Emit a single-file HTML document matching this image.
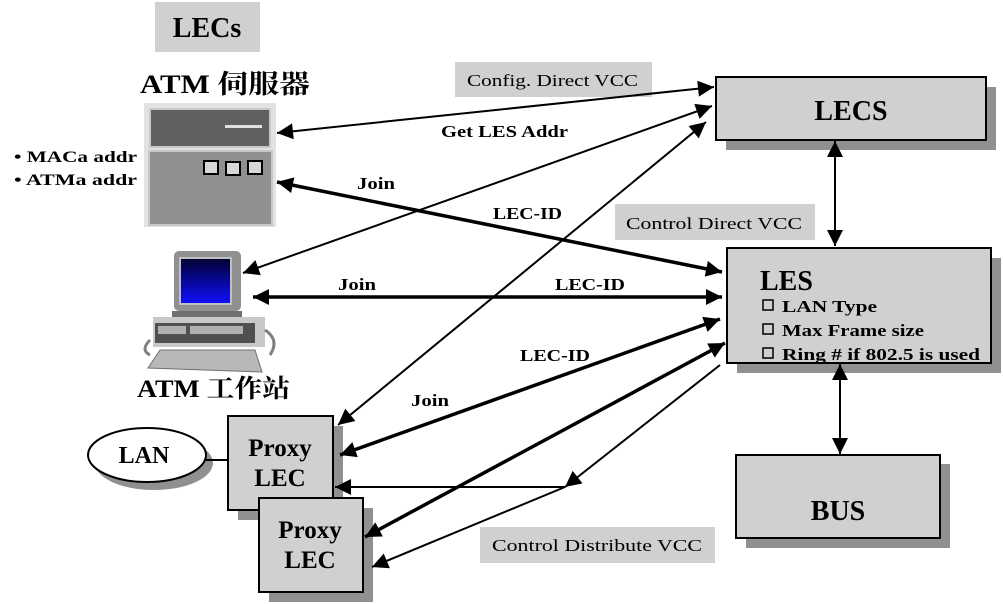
<!DOCTYPE html>
<html><head><meta charset="utf-8"><style>
body{margin:0;background:#fff}
svg{display:block}
text{font-family:"Liberation Serif","Noto Serif CJK SC",serif;font-weight:bold}
.n{font-weight:normal}
</style></head><body>
<svg width="1003" height="604" viewBox="0 0 1003 604" xmlns="http://www.w3.org/2000/svg">
<defs>
<marker id="A" viewBox="0 0 10 10" refX="10" refY="5" markerWidth="30" markerHeight="16" orient="auto-start-reverse" markerUnits="userSpaceOnUse"><path d="M0,0L10,5L0,10z"/></marker>
<linearGradient id="scr" x1="0" y1="0" x2="0" y2="1"><stop offset="0" stop-color="#000030"/><stop offset="1" stop-color="#1010ff"/></linearGradient>
</defs>

<rect x="155" y="2" width="105" height="50" fill="#d0d0d0"/>
<text x="207" y="37" font-size="28" text-anchor="middle">LECs</text>
<text x="140" y="93" font-size="26" textLength="170" lengthAdjust="spacingAndGlyphs">ATM 伺服器</text>

<rect x="144" y="103" width="132" height="124" fill="#e2e2e2"/>
<rect x="150" y="109" width="120" height="38" fill="#606060" stroke="#c8c8c8" stroke-width="2"/>
<rect x="225" y="125" width="37" height="3" fill="#e0e0e0"/>
<rect x="149" y="151" width="123" height="74" fill="#909090" stroke="#c8c8c8" stroke-width="2"/>
<rect x="204" y="161" width="14" height="13" fill="#d8d8d8" stroke="#000" stroke-width="2"/>
<rect x="226" y="162" width="14" height="13" fill="#d8d8d8" stroke="#000" stroke-width="2"/>
<rect x="248" y="161" width="14" height="13" fill="#d8d8d8" stroke="#000" stroke-width="2"/>

<text x="14" y="162" font-size="16" textLength="123" lengthAdjust="spacingAndGlyphs">• MACa addr</text>
<text x="14" y="185" font-size="16" textLength="123" lengthAdjust="spacingAndGlyphs">• ATMa addr</text>

<rect x="174" y="251" width="67" height="60" rx="5" fill="#909090"/>
<rect x="180" y="258" width="51" height="46" fill="url(#scr)" stroke="#c0c0c0" stroke-width="2"/>
<rect x="172" y="311" width="70" height="6" fill="#707070"/>
<rect x="153" y="317" width="112" height="30" fill="#c8c8c8"/>
<rect x="155" y="323" width="100" height="20" fill="#505050"/>
<rect x="158" y="326" width="28" height="8" fill="#b0b0b0"/>
<rect x="190" y="326" width="25" height="8" fill="#b0b0b0"/>
<rect x="215" y="326" width="28" height="8" fill="#b0b0b0"/>
<path d="M160 350L255 350L262 372L148 368Z" fill="#b8b8b8" stroke="#707070"/>
<path d="M150 340q-10 10 0 15M265 330q15 10 5 25" stroke="#808080" stroke-width="3" fill="none"/>
<text x="137" y="397" font-size="25" textLength="153" lengthAdjust="spacingAndGlyphs">ATM 工作站</text>

<rect x="455" y="62" width="197" height="35" fill="#d0d0d0"/>
<text class="n" x="467" y="86" font-size="17" textLength="171" lengthAdjust="spacingAndGlyphs">Config. Direct VCC</text>
<rect x="615" y="204" width="200" height="36" fill="#d0d0d0"/>
<text class="n" x="626" y="229" font-size="17" textLength="176" lengthAdjust="spacingAndGlyphs">Control Direct VCC</text>
<rect x="480" y="527" width="235" height="36" fill="#d0d0d0"/>
<text class="n" x="492" y="551" font-size="17" textLength="210" lengthAdjust="spacingAndGlyphs">Control Distribute VCC</text>

<rect x="726" y="87" width="270" height="63" fill="#909090"/>
<rect x="716" y="77" width="270" height="63" fill="#d0d0d0" stroke="#000" stroke-width="2"/>
<text x="851" y="120" font-size="28" text-anchor="middle">LECS</text>

<rect x="737" y="258" width="264" height="115" fill="#909090"/>
<rect x="727" y="248" width="264" height="115" fill="#d0d0d0" stroke="#000" stroke-width="2"/>
<text x="760" y="290" font-size="28">LES</text>
<g fill="none" stroke="#000" stroke-width="1.5">
<rect x="763" y="300" width="10" height="10"/>
<rect x="763" y="324" width="10" height="10"/>
<rect x="763" y="348" width="10" height="10"/>
</g>
<text x="782" y="312" font-size="17" textLength="95" lengthAdjust="spacingAndGlyphs">LAN Type</text>
<text x="782" y="336" font-size="17" textLength="142" lengthAdjust="spacingAndGlyphs">Max Frame size</text>
<text x="782" y="360" font-size="17" textLength="198" lengthAdjust="spacingAndGlyphs">Ring # if 802.5 is used</text>

<rect x="746" y="464" width="204" height="84" fill="#909090"/>
<rect x="736" y="455" width="204" height="83" fill="#d0d0d0" stroke="#000" stroke-width="2"/>
<text x="838" y="520" font-size="28" text-anchor="middle">BUS</text>

<ellipse cx="154" cy="463" rx="59" ry="27" fill="#909090"/>
<ellipse cx="147" cy="455" rx="59" ry="27" fill="#fff" stroke="#000" stroke-width="2"/>
<text x="144" y="463" font-size="24" text-anchor="middle">LAN</text>
<line x1="206" y1="460" x2="229" y2="460" stroke="#000" stroke-width="2"/>

<rect x="238" y="426" width="105" height="94" fill="#909090"/>
<rect x="228" y="416" width="105" height="94" fill="#d0d0d0" stroke="#000" stroke-width="2"/>
<text x="280" y="456" font-size="25" text-anchor="middle">Proxy</text>
<text x="280" y="486" font-size="25" text-anchor="middle">LEC</text>
<rect x="269" y="508" width="104" height="94" fill="#909090"/>
<rect x="259" y="498" width="104" height="94" fill="#d0d0d0" stroke="#000" stroke-width="2"/>
<text x="310" y="538" font-size="25" text-anchor="middle">Proxy</text>
<text x="310" y="568" font-size="25" text-anchor="middle">LEC</text>

<g stroke="#000" fill="none">
<line x1="277" y1="133" x2="714" y2="87" stroke-width="2" marker-start="url(#A)" marker-end="url(#A)"/>
<line x1="243" y1="273" x2="712" y2="106" stroke-width="2" marker-start="url(#A)" marker-end="url(#A)"/>
<line x1="338" y1="425" x2="706" y2="122" stroke-width="2" marker-start="url(#A)" marker-end="url(#A)"/>
<line x1="277" y1="182" x2="722" y2="272" stroke-width="3.5" marker-start="url(#A)" marker-end="url(#A)"/>
<line x1="253" y1="297" x2="722" y2="297" stroke-width="3.5" marker-start="url(#A)" marker-end="url(#A)"/>
<line x1="340" y1="455" x2="720" y2="319" stroke-width="3.5" marker-start="url(#A)" marker-end="url(#A)"/>
<line x1="365" y1="537" x2="725" y2="343" stroke-width="3.5" marker-start="url(#A)" marker-end="url(#A)"/>
<line x1="720" y1="365" x2="565" y2="487" stroke-width="2" marker-end="url(#A)"/>
<line x1="565" y1="487" x2="335" y2="487" stroke-width="2" marker-end="url(#A)"/>
<line x1="565" y1="487" x2="372" y2="567" stroke-width="2" marker-end="url(#A)"/>
<line x1="835" y1="141" x2="835" y2="246" stroke-width="2" marker-start="url(#A)" marker-end="url(#A)"/>
<line x1="840" y1="364" x2="840" y2="454" stroke-width="2" marker-start="url(#A)" marker-end="url(#A)"/>
</g>

<text x="441" y="137" font-size="17" textLength="127" lengthAdjust="spacingAndGlyphs">Get LES Addr</text>
<text x="357" y="189" font-size="17" textLength="38" lengthAdjust="spacingAndGlyphs">Join</text>
<text x="493" y="219" font-size="17" textLength="69" lengthAdjust="spacingAndGlyphs">LEC-ID</text>
<text x="338" y="290" font-size="17" textLength="38" lengthAdjust="spacingAndGlyphs">Join</text>
<text x="555" y="290" font-size="17" textLength="70" lengthAdjust="spacingAndGlyphs">LEC-ID</text>
<text x="520" y="361" font-size="17" textLength="70" lengthAdjust="spacingAndGlyphs">LEC-ID</text>
<text x="411" y="406" font-size="17" textLength="38" lengthAdjust="spacingAndGlyphs">Join</text>
</svg>
</body></html>
